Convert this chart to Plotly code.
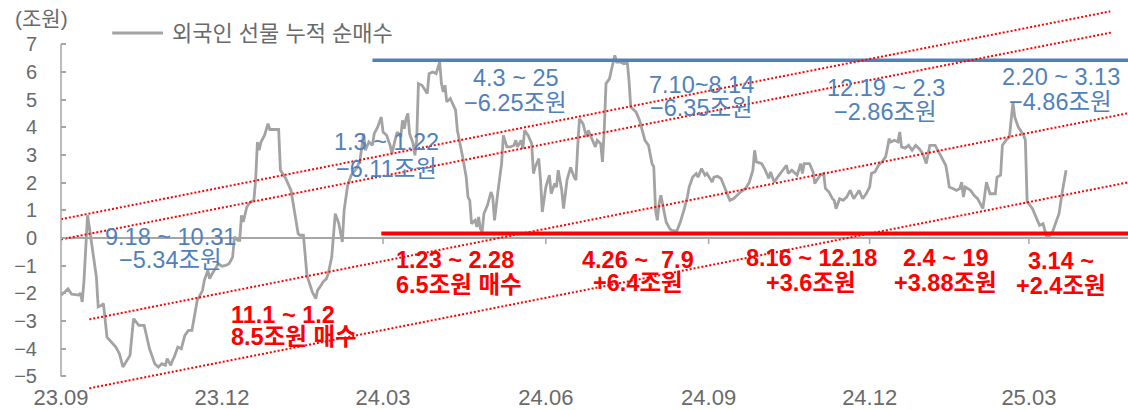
import plotly.graph_objects as go

# ---------------- data ----------------
dates = [
    "2023-09-01", "2023-09-05", "2023-09-07", "2023-09-11", "2023-09-12", "2023-09-13", "2023-09-14",
    "2023-09-16", "2023-09-17", "2023-09-19", "2023-09-21", "2023-09-22", "2023-09-24", "2023-09-25",
    "2023-09-26", "2023-09-27",
    "2023-10-02", "2023-10-04", "2023-10-06", "2023-10-10", "2023-10-12", "2023-10-15", "2023-10-18",
    "2023-10-19", "2023-10-20", "2023-10-21", "2023-10-24", "2023-10-26", "2023-10-28", "2023-10-30",
    "2023-10-31",
    "2023-11-02", "2023-11-03", "2023-11-04", "2023-11-06", "2023-11-08", "2023-11-10", "2023-11-12",
    "2023-11-14", "2023-11-15", "2023-11-17", "2023-11-20", "2023-11-21", "2023-11-23", "2023-11-24",
    "2023-11-26", "2023-11-29",
    "2023-12-01", "2023-12-03", "2023-12-05", "2023-12-07", "2023-12-08", "2023-12-10", "2023-12-11",
    "2023-12-12", "2023-12-13", "2023-12-15", "2023-12-17", "2023-12-19", "2023-12-20", "2023-12-21",
    "2023-12-22", "2023-12-23", "2023-12-25", "2023-12-27", "2023-12-28",
    "2024-01-02", "2024-01-03", "2024-01-06", "2024-01-09", "2024-01-11", "2024-01-13", "2024-01-14",
    "2024-01-16", "2024-01-18", "2024-01-20", "2024-01-21", "2024-01-23", "2024-01-24", "2024-01-26",
    "2024-01-27", "2024-01-29", "2024-01-30",
    "2024-02-01", "2024-02-03", "2024-02-05", "2024-02-07", "2024-02-08", "2024-02-09", "2024-02-10",
    "2024-02-12", "2024-02-15", "2024-02-17", "2024-02-19", "2024-02-20", "2024-02-22", "2024-02-24",
    "2024-02-25", "2024-02-27", "2024-02-29",
    "2024-03-01", "2024-03-03", "2024-03-05", "2024-03-06", "2024-03-08", "2024-03-09", "2024-03-11",
    "2024-03-12", "2024-03-13", "2024-03-14", "2024-03-15", "2024-03-16", "2024-03-18", "2024-03-19",
    "2024-03-20", "2024-03-21", "2024-03-23", "2024-03-26", "2024-03-27", "2024-03-29", "2024-03-31",
    "2024-04-02", "2024-04-03", "2024-04-04", "2024-04-05", "2024-04-06", "2024-04-08", "2024-04-11",
    "2024-04-12", "2024-04-14", "2024-04-15", "2024-04-17", "2024-04-18", "2024-04-19", "2024-04-20",
    "2024-04-22", "2024-04-23", "2024-04-24", "2024-04-25", "2024-04-26", "2024-04-27", "2024-04-29",
    "2024-05-01", "2024-05-02", "2024-05-03", "2024-05-05", "2024-05-07", "2024-05-08", "2024-05-10",
    "2024-05-12", "2024-05-14", "2024-05-15", "2024-05-16", "2024-05-18", "2024-05-19", "2024-05-20",
    "2024-05-22", "2024-05-24", "2024-05-25", "2024-05-26", "2024-05-28", "2024-05-29", "2024-05-30",
    "2024-06-01", "2024-06-03", "2024-06-04", "2024-06-06", "2024-06-07", "2024-06-08", "2024-06-10",
    "2024-06-11", "2024-06-13", "2024-06-15", "2024-06-17", "2024-06-18", "2024-06-19", "2024-06-20",
    "2024-06-22", "2024-06-24", "2024-06-25", "2024-06-27", "2024-06-29", "2024-06-30",
    "2024-07-02", "2024-07-03", "2024-07-04", "2024-07-05", "2024-07-07", "2024-07-08", "2024-07-10",
    "2024-07-11", "2024-07-13", "2024-07-15", "2024-07-17", "2024-07-18", "2024-07-19", "2024-07-22",
    "2024-07-24", "2024-07-25", "2024-07-27", "2024-07-29", "2024-07-30", "2024-07-31",
    "2024-08-01", "2024-08-02", "2024-08-03", "2024-08-04", "2024-08-05", "2024-08-06", "2024-08-08",
    "2024-08-10", "2024-08-11", "2024-08-14", "2024-08-16", "2024-08-18", "2024-08-20", "2024-08-21",
    "2024-08-23", "2024-08-25", "2024-08-26", "2024-08-28", "2024-08-30", "2024-08-31",
    "2024-09-03", "2024-09-04", "2024-09-06", "2024-09-08", "2024-09-10", "2024-09-13", "2024-09-15",
    "2024-09-17", "2024-09-19", "2024-09-22", "2024-09-24", "2024-09-26", "2024-09-27", "2024-09-28",
    "2024-10-01", "2024-10-03", "2024-10-05", "2024-10-06", "2024-10-08", "2024-10-10", "2024-10-13",
    "2024-10-15", "2024-10-16", "2024-10-18", "2024-10-21", "2024-10-23", "2024-10-24", "2024-10-25",
    "2024-10-28", "2024-10-30", "2024-10-31",
    "2024-11-03", "2024-11-05", "2024-11-06", "2024-11-08", "2024-11-10", "2024-11-11", "2024-11-12",
    "2024-11-14", "2024-11-16", "2024-11-18", "2024-11-20", "2024-11-22", "2024-11-25", "2024-11-27",
    "2024-11-29",
    "2024-12-01", "2024-12-02", "2024-12-04", "2024-12-06", "2024-12-08", "2024-12-10", "2024-12-11",
    "2024-12-12", "2024-12-13", "2024-12-15", "2024-12-17", "2024-12-18", "2024-12-19", "2024-12-21",
    "2024-12-23", "2024-12-25", "2024-12-27", "2024-12-29", "2024-12-31",
    "2025-01-02", "2025-01-04", "2025-01-07", "2025-01-09", "2025-01-11", "2025-01-13", "2025-01-14",
    "2025-01-15", "2025-01-17", "2025-01-19", "2025-01-21", "2025-01-22", "2025-01-23", "2025-01-24",
    "2025-01-27", "2025-01-29", "2025-01-31",
    "2025-02-03", "2025-02-05", "2025-02-07", "2025-02-10", "2025-02-11", "2025-02-13", "2025-02-14",
    "2025-02-16", "2025-02-18", "2025-02-20", "2025-02-21", "2025-02-23", "2025-02-26", "2025-02-27",
    "2025-02-28",
    "2025-03-01", "2025-03-03", "2025-03-05", "2025-03-07", "2025-03-09", "2025-03-11", "2025-03-13",
    "2025-03-14", "2025-03-16", "2025-03-18", "2025-03-20", "2025-03-22",
]
net_buy = [
    -2.07, -1.84, -2.03, -2.06, -1.99, -2.31, -1.53,
    0.82, 0.40, -0.44, -1.41, -2.49, -2.43, -2.37,
    -2.97, -3.58,
    -3.94, -4.18, -4.66, -4.24, -2.91, -3.16, -3.16,
    -3.46, -3.64, -4.00, -4.54, -4.66, -4.54, -4.60,
    -4.36,
    -4.60, -4.42, -4.30, -3.94, -4.00, -3.52, -3.34,
    -3.34, -2.97, -2.25, -1.89, -1.53, -1.17, -1.47,
    -1.23, -0.93,
    -1.02, -0.99, -0.93, -0.69, 0.04, -0.08, -0.08,
    0.82, 0.58, 1.12, 1.30, 1.36, 2.09, 3.47,
    3.17, 3.47, 3.71, 4.13, 3.92,
    3.92, 2.45, 2.15, 1.72, 1.00, 0.16, 0.10,
    0.10, -1.35, -1.77, -1.95, -2.19, -1.89, -1.71,
    -1.59, -1.47, -1.29,
    -0.69, 0.88, 0.52, -0.14, 1.00, 1.54, 1.90,
    2.27, 2.51, 2.81, 3.77, 3.17, 3.47, 3.35,
    3.77, 4.01, 4.37,
    3.83, 3.71, 3.35, 3.05, 3.59, 3.83, 3.65,
    4.25, 3.95, 4.31, 4.50, 3.77, 3.41, 2.99,
    3.53, 5.58, 5.52, 5.22, 5.94, 6.00, 5.94,
    6.36, 5.58, 5.28, 5.52, 4.92, 5.04, 4.62,
    3.89, 3.29, 2.93, 2.20, 1.48, 1.36, 0.52,
    0.64, 0.40, 0.76, 0.34, 0.22, 0.88, 1.18,
    1.66, 1.48, 0.64, 1.72, 2.69, 3.71, 3.29,
    3.29, 3.35, 3.53, 3.29, 3.53, 3.23, 3.89,
    3.71, 3.41, 2.33, 2.57, 2.87, 2.09, 0.94,
    1.84, 2.27, 1.60, 1.97, 1.84, 2.45, 1.72,
    1.06, 2.10, 2.55, 2.20, 2.09, 3.29, 4.31,
    4.13, 3.65, 3.89, 3.59, 3.29, 3.53,
    3.41, 2.75, 3.89, 5.58, 5.76, 6.06, 6.60,
    6.36, 6.36, 6.30, 6.36, 5.70, 4.73, 4.55,
    4.25, 4.01, 3.53, 3.35, 3.05, 2.69,
    2.57, 1.00, 0.64, 1.24, 1.54, 1.18, 0.58,
    0.34, 0.28, 0.25, 0.58, 1.00, 1.48, 1.84,
    2.20, 2.33, 2.20, 2.51, 2.27, 2.33,
    2.02, 2.20, 2.23, 2.15, 1.84, 1.36, 1.42,
    1.54, 1.66, 1.80, 2.02, 2.45, 3.17, 2.75,
    2.69, 2.45, 2.15, 2.39, 2.02, 2.20, 2.45,
    2.63, 2.33, 2.45, 2.27, 2.69, 2.33, 2.69,
    2.69, 2.39, 1.97,
    2.27, 2.33, 1.79, 1.66, 1.42, 1.36, 1.06,
    1.42, 1.36, 1.48, 1.72, 1.42, 1.72, 1.42,
    1.60,
    1.84, 2.33, 2.39, 2.63, 2.75, 2.93, 3.23,
    3.59, 3.47, 3.53, 3.47, 3.83, 3.29, 3.25,
    3.35, 3.17, 3.35, 3.23, 3.05,
    2.69, 3.35, 3.35, 3.11, 2.87, 2.63, 2.27,
    1.84, 1.79, 1.72, 1.79, 2.02, 1.48, 1.84,
    1.72, 1.54, 1.42,
    1.06, 2.02, 1.60, 1.60, 2.20, 2.27, 3.35,
    3.53, 3.65, 4.92, 4.37, 4.01, 3.71, 3.53,
    1.30,
    1.24, 1.06, 0.76, 0.46, 0.52, 0.04, 0.10,
    0.16, 0.52, 0.88, 1.72, 2.45,
]

# resistance (blue) and support (red) levels
upper_level_dates = ["2024-02-24", "2025-05-10"]
upper_level = [6.42, 6.42]
lower_level_dates = ["2024-02-29", "2025-05-10"]
lower_level = [0.16, 0.16]

# rising channel (red dotted) lines: start/end dates and values
channel_start_dates = ["2023-09-01", "2023-09-01", "2023-09-17", "2023-09-17"]
channel_start_vals = [0.68, -0.05, -2.94, -5.43]
channel_end_dates = ["2025-04-16", "2025-04-17", "2025-04-26", "2025-04-26"]
channel_end_vals = [8.19, 7.43, 4.51, 2.01]

tick_dates = ["2023-09-01", "2023-12-01", "2024-03-01", "2024-06-01",
              "2024-09-01", "2024-12-01", "2025-03-01"]
tick_labels = ["23.09", "23.12", "24.03", "24.06", "24.09", "24.12", "25.03"]
y_ticks = list(range(-5, 8))

# annotations (each text line separately)
blue_lines = ["9.18 ~ 10.31", "−5.34조원",
              "1.3 ~ 1.22", "−6.11조원",
              "4.3 ~ 25", "−6.25조원",
              "7.10~8.14", "−6.35조원",
              "12.19 ~ 2.3", "−2.86조원",
              "2.20 ~ 3.13", "−4.86조원"]
blue_x = ["2023-11-02", "2023-11-02",
          "2024-03-03", "2024-03-03",
          "2024-05-15", "2024-05-15",
          "2024-08-28", "2024-08-28",
          "2024-12-10", "2024-12-10",
          "2025-03-19", "2025-03-19"]
blue_y = [0.03, -0.81, 3.46, 2.49, 5.77, 4.87, 5.52, 4.69, 5.41, 4.54, 5.81, 4.90]

red_lines = ["11.1 ~ 1.2", "8.5조원 매수",
             "1.23 ~ 2.28", "6.5조원 매수",
             "4.26 ~  7.9", "+6.4조원",
             "8.16 ~ 12.18", "+3.6조원",
             "2.4 ~ 19", "+3.88조원",
             "3.14 ~", "+2.4조원"]
red_x = ["2023-12-05", "2023-12-05",
         "2024-03-07", "2024-03-07",
         "2024-07-23", "2024-07-23",
         "2024-10-29", "2024-10-29",
         "2025-01-13", "2025-01-13",
         "2025-03-19", "2025-03-19"]
red_y = [-2.79, -3.59, -0.81, -1.71, -0.81, -1.64, -0.73, -1.64, -0.73, -1.64, -0.84, -1.75]
red_anchor = ["left", "left", "left", "left", "center", "center",
              "center", "center", "center", "center", "center", "center"]

# ---------------- style ----------------
FONT = "Liberation Sans, Arial, Noto Sans CJK KR, sans-serif"
GRAY_LINE = "#a3a3a3"
AXIS_GRAY = "#a6a6a6"
TEXT_GRAY = "#6a6a6a"
BLUE = "#4f81bd"
RED = "#ff0000"

fig = go.Figure()

fig.add_trace(go.Scatter(x=dates, y=net_buy, mode="lines",
                         line=dict(color=GRAY_LINE, width=2.8),
                         name="외국인 선물 누적 순매수", showlegend=False,
                         hoverinfo="skip"))

fig.add_trace(go.Scatter(x=upper_level_dates, y=upper_level, mode="lines",
                         line=dict(color=BLUE, width=3.5), showlegend=False, hoverinfo="skip"))
fig.add_trace(go.Scatter(x=lower_level_dates, y=lower_level, mode="lines",
                         line=dict(color=RED, width=4), showlegend=False, hoverinfo="skip"))

for sd, sv, ed, ev in zip(channel_start_dates, channel_start_vals, channel_end_dates, channel_end_vals):
    fig.add_trace(go.Scatter(x=[sd, ed], y=[sv, ev], mode="lines",
                             line=dict(color=RED, width=2, dash="2px,2px"),
                             showlegend=False, hoverinfo="skip"))

shapes = []
# y axis line from -5 to 7
shapes.append(dict(type="line", xref="paper", yref="y", x0=0, x1=0,
                   y0=min(y_ticks), y1=max(y_ticks),
                   line=dict(color=AXIS_GRAY, width=1.5)))
# tick marks on the zero line
for td in tick_dates[1:]:
    shapes.append(dict(type="line", xref="x", yref="y", x0=td, x1=td,
                       ysizemode="pixel", yanchor=0, y0=0, y1=-6,
                       line=dict(color=AXIS_GRAY, width=1.5)))
# legend sample line
shapes.append(dict(type="line", xref="paper", yref="paper", x0=0.048, x1=0.0956,
                   y0=0.916, y1=0.916, line=dict(color=GRAY_LINE, width=2.8)))

annotations = []
annotations.append(dict(text="(조원)", xref="paper", yref="paper", x=-0.0187, y=0.954,
                        showarrow=False, xanchor="center", yanchor="middle",
                        font=dict(family=FONT, size=21, color=TEXT_GRAY)))
annotations.append(dict(text="외국인 선물 누적 순매수", xref="paper", yref="paper", x=0.102, y=0.916,
                        showarrow=False, xanchor="left", yanchor="middle",
                        font=dict(family=FONT, size=22, color=TEXT_GRAY)))
for t, x, y in zip(blue_lines, blue_x, blue_y):
    annotations.append(dict(text=t, x=x, y=y, xref="x", yref="y", showarrow=False,
                            xanchor="center", yanchor="middle",
                            font=dict(family=FONT, size=23.5, color=BLUE)))
for t, x, y, a in zip(red_lines, red_x, red_y, red_anchor):
    annotations.append(dict(text="<b>" + t + "</b>", x=x, y=y, xref="x", yref="y", showarrow=False,
                            xanchor=a, yanchor="middle",
                            font=dict(family=FONT, size=23.5, color=RED)))

fig.update_layout(
    width=1128, height=410,
    margin=dict(l=61, r=0, t=0, b=17, autoexpand=False),
    paper_bgcolor="white", plot_bgcolor="white",
    showlegend=False,
    shapes=shapes, annotations=annotations,
    xaxis=dict(type="date", range=["2023-09-01", "2025-04-26"], automargin=False,
               tickvals=tick_dates, ticktext=tick_labels,
               showgrid=False, showline=False, zeroline=False, ticks="",
               ticklabelstandoff=-11,
               tickfont=dict(family=FONT, size=22, color=TEXT_GRAY)),
    yaxis=dict(range=[-5.6, 8.6], tickvals=y_ticks, automargin=False,
               showgrid=False, showline=False,
               zeroline=True, zerolinecolor=AXIS_GRAY, zerolinewidth=1.5,
               ticks="inside", ticklen=5, tickwidth=1.5, tickcolor=AXIS_GRAY,
               ticklabelstandoff=23,
               tickfont=dict(family=FONT, size=20, color=TEXT_GRAY)),
)

fig.write_html("out.html", config={"displayModeBar": False},
               post_script="document.body.style.margin='0';document.body.style.overflow='hidden';")
